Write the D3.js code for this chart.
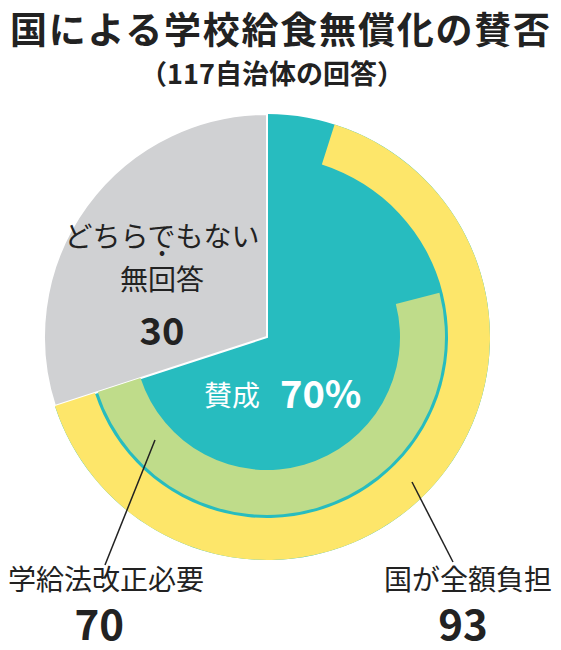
<!DOCTYPE html><html><head><meta charset="utf-8">
<script src="https://cdn.jsdelivr.net/npm/d3@7"></script>
<style>body{margin:0;background:#fff}</style></head><body>
<svg id="c" width="561" height="650"></svg>
<script>
const categories = ["賛成", "どちらでもない・無回答"];
const shares = [70, 30];               // % of 117 municipalities
const subCategories = ["国が全額負担", "学給法改正必要"];
const subShares = [93, 70];            // % of 賛成
const title = "国による学校給食無償化の賛否";
const subtitle = "（117自治体の回答）";

const svg = d3.select("#c");
const F = "'Noto Sans CJK JP', sans-serif";
const cx = 267, cy = 337, R = 223;
const g = svg.append("g").attr("transform", `translate(${cx},${cy})`);
const ang = d3.scaleLinear().domain([0, 100]).range([0, 2 * Math.PI]);
const yesEnd = ang(shares[0]);

g.append("path").attr("d", d3.arc()({innerRadius: 0, outerRadius: R, startAngle: 0, endAngle: yesEnd})).attr("fill", "#27bcbf");
g.append("path").attr("d", d3.arc()({innerRadius: 0, outerRadius: R, startAngle: yesEnd, endAngle: ang(100)}))
  .attr("fill", "#d0d1d3").attr("stroke", "#fff").attr("stroke-width", 2);
const sub = d3.scaleLinear().domain([0, 100]).range([0, yesEnd]);
g.append("path").attr("d", d3.arc()({innerRadius: 181, outerRadius: R, startAngle: yesEnd - sub(subShares[0]), endAngle: yesEnd})).attr("fill", "#fde66a");
g.append("path").attr("d", d3.arc()({innerRadius: 133, outerRadius: 178, startAngle: yesEnd - sub(subShares[1]), endAngle: yesEnd})).attr("fill", "#bfdc8a");

svg.append("text").attr("x", 280).attr("y", 44).attr("text-anchor", "middle").attr("font-family", F).attr("font-weight", 700)
  .attr("font-size", 37).attr("textLength", 540).attr("fill", "#222").text(title);
svg.append("text").attr("x", 272).attr("y", 84).attr("text-anchor", "middle").attr("font-family", F).attr("font-weight", 700)
  .attr("font-size", 27).attr("fill", "#222").text(subtitle);

const t = (x, y, s, sz, w, fill, anchor) => svg.append("text").attr("x", x).attr("y", y).attr("text-anchor", anchor || "middle")
  .attr("font-family", F).attr("font-weight", w).attr("font-size", sz).attr("fill", fill).text(s);
t(162, 247, "どちらでもない", 28, 400, "#222");
t(162, 258, "•", 16, 700, "#222");
t(162, 290, "無回答", 28, 400, "#222");
t(162, 345, "30", 38, 700, "#222");
t(232, 406, categories[0], 28, 400, "#fff");
t(280, 408, shares[0] + "%", 38, 700, "#fff", "start");
t(8, 590, subCategories[1], 28, 400, "#222", "start");
t(124, 640, String(subShares[1]), 42, 700, "#222", "end");
t(552, 590, subCategories[0], 28, 400, "#222", "end");
t(463, 640, String(subShares[0]), 42, 700, "#222", "middle");

svg.append("line").attr("x1", 155).attr("y1", 440).attr("x2", 105).attr("y2", 565).attr("stroke", "#222").attr("stroke-width", 1.5);
svg.append("line").attr("x1", 412).attr("y1", 482).attr("x2", 453).attr("y2", 562).attr("stroke", "#222").attr("stroke-width", 1.5);
</script></body></html>
